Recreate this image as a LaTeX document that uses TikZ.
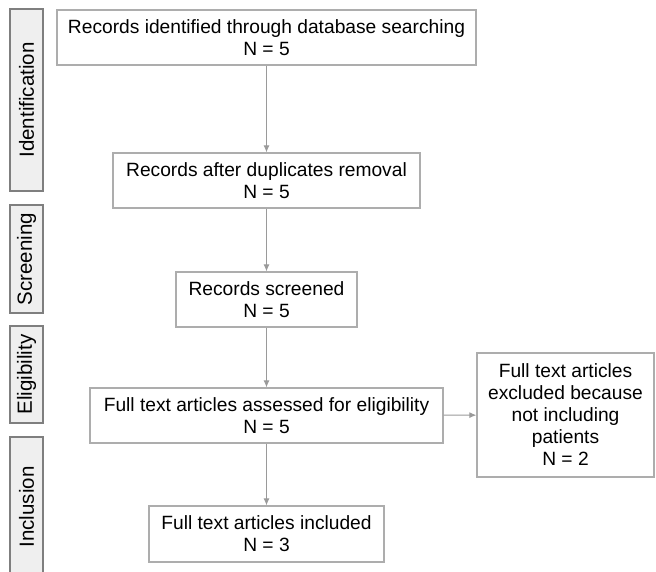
\documentclass[tikz,border=0pt]{standalone}
\usepackage{fontspec}
\setmainfont{Liberation Sans}
\usetikzlibrary{arrows.meta}
\definecolor{boxline}{HTML}{ADADAD}
\definecolor{phaseline}{HTML}{7F7F7F}
\definecolor{phasefill}{HTML}{EFEFEF}
\definecolor{flowline}{HTML}{9A9A9A}
\tikzset{
  box/.style={draw=boxline, line width=1.3pt, fill=white, align=center,
    inner sep=0pt, font=\fontsize{19.2}{22}\selectfont},
  phase/.style={draw=phaseline, line width=1.1pt, fill=phasefill, rotate=90,
    inner sep=0pt, minimum height=33pt, font=\fontsize{20.5}{22}\selectfont},
  flow/.style={draw=flowline, line width=1pt, -{Latex[length=7pt,width=6pt]}}
}

\begin{document}
\begin{tikzpicture}[x=1pt,y=-1pt]
\useasboundingbox (0,0) rectangle (656,571);
% phases
\node[phase, minimum width=182pt] (identification) at (26.5,100) {Identification};
\node[phase, minimum width=108pt] (screening) at (26.5,259) {Screening};
\node[phase, minimum width=97pt] (eligibility) at (26.5,374.5) {Eligibility};
\node[phase, minimum width=140pt] (inclusion) at (26.5,507) {Inclusion};
% records
\node[box, minimum width=419pt, minimum height=55pt] (identified) at (266.5,37.5)
  {Records identified through database searching\\N = 5};
\node[box, minimum width=307pt, minimum height=55pt] (duplicates) at (266.5,180.5)
  {Records after duplicates removal\\N = 5};
\node[box, minimum width=181pt, minimum height=55pt] (screened) at (266.5,299.5)
  {Records screened\\N = 5};
\node[box, minimum width=353pt, minimum height=55pt] (assessed) at (266.5,415.5)
  {Full text articles assessed for eligibility\\N = 5};
\node[box, minimum width=177pt, minimum height=124pt] (excluded) at (565.5,415)
  {Full text articles\\excluded because\\not including\\patients\\N = 2};
\node[box, minimum width=235pt, minimum height=56pt] (included) at (266.5,534)
  {Full text articles included\\N = 3};
% arrows
\draw[flow] (identified) -- (duplicates);
\draw[flow] (duplicates) -- (screened);
\draw[flow] (screened) -- (assessed);
\draw[flow] (assessed) -- (included);
\draw[flow] (assessed) -- (excluded);
\end{tikzpicture}
\end{document}
